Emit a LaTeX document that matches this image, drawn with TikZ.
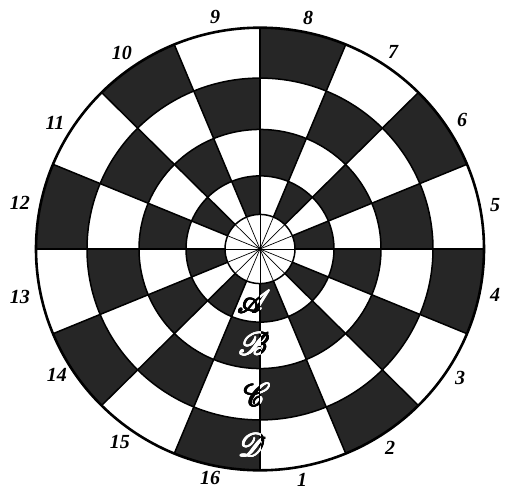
\documentclass[tikz,border=0pt]{standalone}
\usepackage{fontspec}
\usepackage{mathrsfs}
\newfontfamily\numfont{Liberation Serif}
\newcommand{\ringletter}[1]{\scalebox{3.2}{$\mathscr{#1}$}}
\begin{document}
\begin{tikzpicture}[x=1pt,y=1pt,
  cell/.style={fill=black!85},
  ringline/.style={line width=1.5pt},
  rim/.style={line width=2.6pt},
  spoke/.style={line width=0.7pt},
  num/.style={font=\numfont\fontsize{20}{20}\selectfont\bfseries\itshape, inner sep=0pt},
  letter/.style={inner sep=0pt}]
\useasboundingbox (-260,-241) rectangle (245,249);
\fill[white] (-260,-241) rectangle (245,249);
\def\rH{35}\def\rD{224}
\begin{scope}[yscale=0.988]
% checkered cells: ring inner/outer radius / parity
\foreach \ri/\ro/\p in {35/74/1, 74/121/0, 121/173/1, 173/224/0} {
  \foreach \k in {1,...,16} {
    \pgfmathtruncatemacro\t{mod(\k+\p,2)}
    \ifnum\t=0
      \pgfmathsetmacro\as{270+(\k-1)*22.5}
      \pgfmathsetmacro\ae{270+\k*22.5}
      \fill[cell] (\as:\ri) arc[start angle=\as, end angle=\ae, radius=\ri]
        -- (\ae:\ro) arc[start angle=\ae, end angle=\as, radius=\ro] -- cycle;
    \fi
  }
}
% ring boundaries
\foreach \r in {35,74,121,173} \draw[ringline] (0,0) circle[radius=\r];
\draw[rim] (0,0) circle[radius=\rD];
% sector boundaries
\foreach \k in {0,...,15} {
  \draw[ringline] (\k*22.5:\rH) -- (\k*22.5:\rD);
  \draw[spoke] (0,0) -- (\k*22.5:\rH);
}
\end{scope}
% numbers
\foreach \k/\x/\y in {1/42/-231, 2/130/-199, 3/200/-129, 4/235/-46, 5/235/44,
  6/202/129, 7/133/197, 8/48/231, 9/-45/232, 10/-138/196, 11/-205/126,
  12/-240/46, 13/-240/-48, 14/-203/-126, 15/-140/-193, 16/-50/-229} {
  \node[num] (n\k) at (\x,\y) {\k};
}
% ring letters (bold by overprinting): black on white cells, white on dark cells
\foreach \L/\x/\y/\ri/\ro/\as/\ae in {A/-6/-53/35/74/270/292.5, B/-6/-95/74/121/247.5/270, C/-3/-146/121/173/270/292.5, D/-8/-196/173/224/247.5/270} {
  \node[letter] (l\L) at (\x,\y) {\ringletter{\L}};
  \foreach \dx/\dy in {0.6/0,-0.6/0,0/0.6,0/-0.6,0.45/0.45,-0.45/-0.45,0.45/-0.45,-0.45/0.45}
    \node[letter] at (\x+\dx,\y+\dy) {\ringletter{\L}};
  \begin{scope}
    \clip[yscale=0.988] (\as:\ri) arc[start angle=\as, end angle=\ae, radius=\ri]
        -- (\ae:\ro) arc[start angle=\ae, end angle=\as, radius=\ro] -- cycle;
    \foreach \dx/\dy in {0/0,0.6/0,-0.6/0,0/0.6,0/-0.6,0.45/0.45,-0.45/-0.45,0.45/-0.45,-0.45/0.45}
      \node[letter, text=white] at (\x+\dx,\y+\dy) {\ringletter{\L}};
  \end{scope}
}
\end{tikzpicture}
\end{document}
